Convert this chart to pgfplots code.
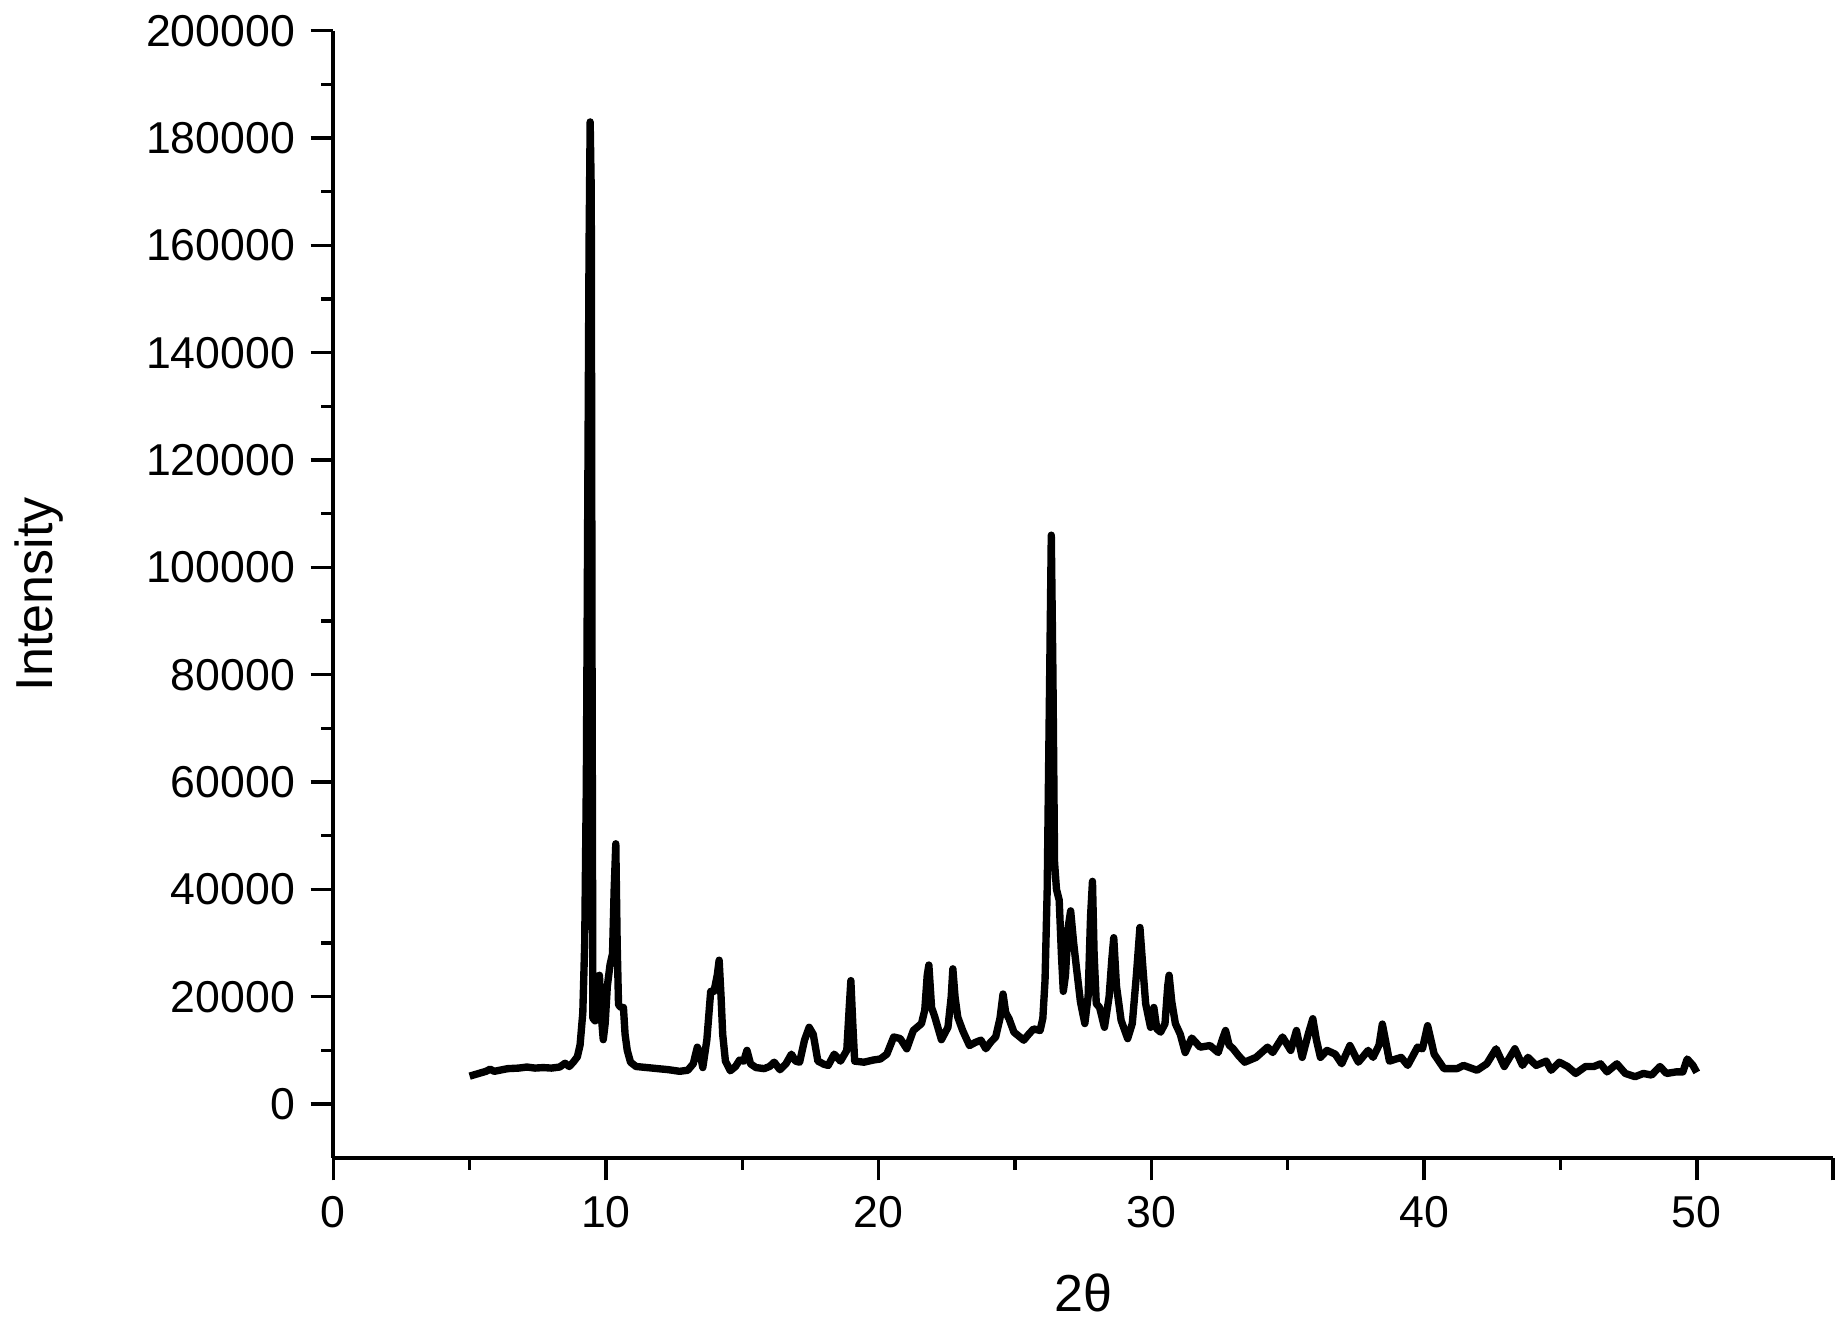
\documentclass[border=0pt]{standalone}
\usepackage{fontspec}
\setmainfont{Liberation Sans}
\usepackage{pgfplots}
\pgfplotsset{compat=1.18}

\begin{document}
\fontsize{10.3}{12}\selectfont
\begin{tikzpicture}
\begin{axis}[
  scale only axis, width=346pt, height=260pt,
  xmin=0, xmax=55, ymin=-10000, ymax=200000,
  axis x line=bottom, axis y line=left,
  axis line style={-, line width=1pt},
  tick align=outside, major tick length=5.2pt, minor tick length=2.8pt,
  every tick/.style={black, line width=0.8pt},
  xtick={0,10,20,30,40,50,55}, xticklabels={0,10,20,30,40,50,},
  minor xtick={5,15,...,45},
  ytick={0,20000,...,200000},
  yticklabels={0,20000,40000,60000,80000,100000,120000,140000,160000,180000,200000},
  minor ytick={10000,30000,...,190000},
  scaled y ticks=false, scaled x ticks=false,
  tick label style={font=\fontsize{10.3}{12}\selectfont},
  xlabel={2θ\rule[-3pt]{0pt}{0pt}}, ylabel={Intensity},
  label style={font=\fontsize{12}{14}\selectfont},
  xlabel style={yshift=-3.5pt},
  ylabel style={yshift=12pt},
]
\addplot[black, line width=1.7pt, line join=round, no marks] coordinates {
(5.0,5200) (5.2,5500) (5.4,5800) (5.6,6100) (5.75,6500) (5.9,6100) (6.1,6300)
(6.4,6600) (6.8,6700) (7.1,6900) (7.4,6700) (7.7,6800) (8.0,6700) (8.3,6900)
(8.5,7600) (8.65,7000) (8.8,7800) (8.95,8800) (9.05,11000) (9.15,17000)
(9.22,30000) (9.28,60000) (9.33,110000) (9.38,160000) (9.42,183000) (9.46,170000)
(9.49,80000) (9.52,16000) (9.6,15500) (9.7,21000) (9.76,24000) (9.82,17000)
(9.9,12000) (9.97,15000) (10.05,22000) (10.15,26000) (10.24,28000) (10.3,40000)
(10.36,48500) (10.41,30000) (10.46,18500) (10.55,18000) (10.64,18000) (10.7,13000)
(10.78,10000) (10.9,7800) (11.1,7000) (11.5,6800) (11.9,6600) (12.3,6400)
(12.7,6100) (13.0,6300) (13.2,7500) (13.35,10600) (13.45,9500) (13.55,6800)
(13.7,12000) (13.84,21000) (13.96,21000) (14.08,24000) (14.15,26800) (14.22,20000)
(14.28,13000) (14.38,8000) (14.56,6200) (14.75,7000) (14.9,8200) (15.05,8000)
(15.17,10000) (15.3,7500) (15.5,6800) (15.8,6600) (16.0,7000) (16.17,7800)
(16.38,6400) (16.6,7500) (16.8,9300) (16.95,8000) (17.1,7800) (17.28,11900)
(17.45,14300) (17.6,13000) (17.77,8000) (18.0,7400) (18.15,7200) (18.37,9300)
(18.6,8000) (18.83,10000) (18.92,18000) (18.98,23000) (19.05,15000) (19.12,8000)
(19.46,7800) (19.8,8200) (20.06,8400) (20.3,9300) (20.55,12500) (20.79,12200)
(21.03,10300) (21.27,13700) (21.57,15000) (21.69,17500) (21.78,24000) (21.84,25900)
(21.94,18000) (22.06,16200) (22.3,12000) (22.54,14300) (22.66,20000) (22.72,25200)
(22.8,20000) (22.9,16200) (23.08,13700) (23.33,10900) (23.55,11500) (23.75,11900)
(23.93,10300) (24.1,11500) (24.29,12500) (24.45,16000) (24.56,20500) (24.66,17000)
(24.78,15900) (24.96,13400) (25.32,11900) (25.5,13000) (25.68,14000) (25.92,13700)
(26.02,16000) (26.1,23000) (26.18,40000) (26.26,75000) (26.33,106000) (26.39,80000)
(26.45,45000) (26.52,40000) (26.62,38000) (26.7,28000) (26.77,21000) (26.85,24000)
(26.95,33000) (27.04,36000) (27.15,30000) (27.25,25500) (27.4,19000) (27.56,15000)
(27.68,20000) (27.77,35000) (27.84,41500) (27.9,28000) (27.98,18700) (28.1,18000)
(28.28,14300) (28.45,20000) (28.55,27000) (28.62,31000) (28.72,22000) (28.89,15600)
(29.13,12200) (29.3,15000) (29.45,24000) (29.58,32900) (29.68,26000) (29.79,18700)
(29.97,14300) (30.09,18000) (30.2,14000) (30.34,13400) (30.5,15000) (30.6,22000)
(30.65,24000) (30.75,19000) (30.88,15000) (31.06,13000) (31.24,9600) (31.48,12300)
(31.79,10600) (32.15,10900) (32.45,9600) (32.6,12000) (32.72,13700) (32.85,11000)
(33.0,10300) (33.2,9000) (33.42,7800) (33.84,8700) (34.26,10600) (34.45,9600)
(34.81,12500) (35.11,10000) (35.32,13700) (35.53,8700) (35.75,13000) (35.92,15900)
(36.05,12000) (36.2,8700) (36.44,10000) (36.74,9300) (36.98,7500) (37.28,10900)
(37.59,7800) (37.95,10000) (38.13,8700) (38.35,11000) (38.47,14900) (38.58,12000)
(38.73,8000) (39.16,8700) (39.4,7200) (39.76,10600) (39.94,10300) (40.13,14600)
(40.25,12000) (40.37,9300) (40.73,6600) (41.21,6600) (41.45,7200) (41.94,6300)
(42.3,7500) (42.64,10300) (42.94,7000) (43.33,10300) (43.61,7200) (43.81,8700)
(44.11,7200) (44.48,8000) (44.66,6300) (44.96,7800) (45.26,7000) (45.56,5700)
(45.92,7000) (46.23,7000) (46.47,7500) (46.71,6000) (47.07,7500) (47.38,5700)
(47.74,5100) (48.04,5700) (48.34,5400) (48.65,7000) (48.89,5700) (49.25,6000)
(49.49,6000) (49.65,8400) (49.86,7200) (50.0,5900)
};
\end{axis}
\end{tikzpicture}
\end{document}
